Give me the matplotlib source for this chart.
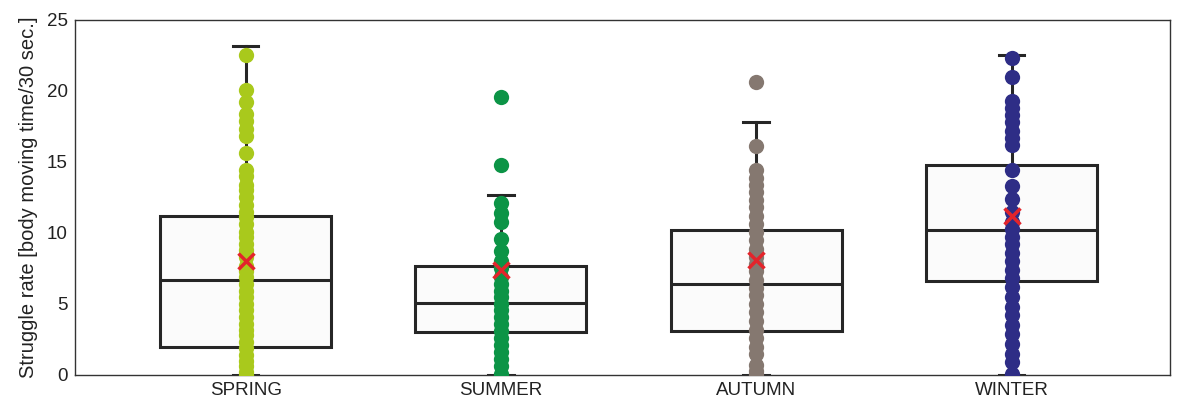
import matplotlib.pyplot as plt

plt.rcParams["font.family"] = ["Liberation Sans", "DejaVu Sans"]

seasons = ["SPRING", "SUMMER", "AUTUMN", "WINTER"]
colors = ["#a9c91c", "#0c9446", "#857870", "#2e2d86"]

# box statistics
q1 = [2.0, 3.0, 3.1, 6.6]
median = [6.7, 5.1, 6.4, 10.2]
q3 = [11.2, 7.7, 10.2, 14.8]
whisker_low = [0.0, 0.0, 0.0, 0.0]
whisker_high = [23.2, 12.7, 17.8, 22.5]
means = [8.0, 7.4, 8.1, 11.2]

spring = [22.5, 20.1, 19.2, 18.4, 17.9, 17.3, 16.8, 15.6, 14.4, 14.0, 13.4, 13.0,
          12.5, 12.0, 11.5, 11.1, 10.6, 10.1, 9.7, 9.2, 8.8, 8.3, 7.7, 7.3, 6.9,
          6.4, 5.9, 5.5, 5.0, 4.6, 4.1, 3.6, 3.2, 2.8, 2.3, 1.9, 1.4, 1.0, 0.6, 0.2, 0.0]
summer = [19.6, 14.8, 12.1, 11.4, 10.8, 9.6, 8.7, 8.0, 7.5, 6.9, 6.4, 5.9, 5.5,
          5.0, 4.6, 4.1, 3.6, 3.1, 2.6, 2.1, 1.6, 1.1, 0.6, 0.1]
autumn = [20.6, 16.1, 14.4, 13.9, 13.4, 12.9, 12.3, 11.8, 11.2, 10.6, 10.1, 9.5,
          8.9, 8.3, 7.8, 7.3, 6.7, 6.1, 5.6, 5.0, 4.4, 3.8, 3.2, 2.6, 2.0, 1.5,
          0.7, 0.3, 0.1]
winter = [22.3, 21.0, 19.3, 18.8, 18.3, 17.8, 17.2, 16.7, 16.2, 14.4, 13.3, 12.4,
          11.5, 10.8, 10.3, 9.7, 9.2, 8.6, 8.0, 7.4, 6.8, 6.2, 5.5, 4.8, 4.2, 3.5,
          2.9, 2.2, 1.5, 0.9, 0.1]
points = [spring, summer, autumn, winter]

positions = [1, 2, 3, 4]

fig = plt.figure(figsize=(11.84, 4.08), dpi=100)
ax = fig.add_axes([0.063, 0.081, 0.925, 0.870])

stats = []
for i in range(4):
    stats.append({"q1": q1[i], "med": median[i], "q3": q3[i],
                  "whislo": whisker_low[i], "whishi": whisker_high[i],
                  "mean": means[i], "fliers": []})

dark = "#262626"
ax.bxp(stats, positions=positions, widths=0.67, showmeans=False, patch_artist=True,
       boxprops=dict(facecolor="#fbfbfb", edgecolor=dark, linewidth=2.2),
       medianprops=dict(color=dark, linewidth=2.2),
       whiskerprops=dict(color=dark, linewidth=2.2),
       capprops=dict(color=dark, linewidth=2.2),
       capwidths=0.1, zorder=1)

for i in range(4):
    ax.plot([positions[i]] * len(points[i]), points[i], "o", color=colors[i],
            markersize=11, markeredgewidth=0, zorder=3)
    ax.plot(positions[i], means[i], "x", color="#e3242b", markersize=11,
            markeredgewidth=2.5, zorder=4)

ax.set_xlim(0.33, 4.62)
ax.set_ylim(0, 25)
ax.set_yticks([0, 5, 10, 15, 20, 25])
ax.set_xticks(positions)
ax.set_xticklabels(seasons)
ax.tick_params(length=0, labelsize=13.5, colors="#222222", pad=5)
for s in ax.spines.values():
    s.set_color("#333333")
    s.set_linewidth(1.0)
ax.set_ylabel("Struggle rate [body moving time/30 sec.]", fontsize=14.5, color="#222222", labelpad=6)

fig.savefig("out.png", dpi=100)
